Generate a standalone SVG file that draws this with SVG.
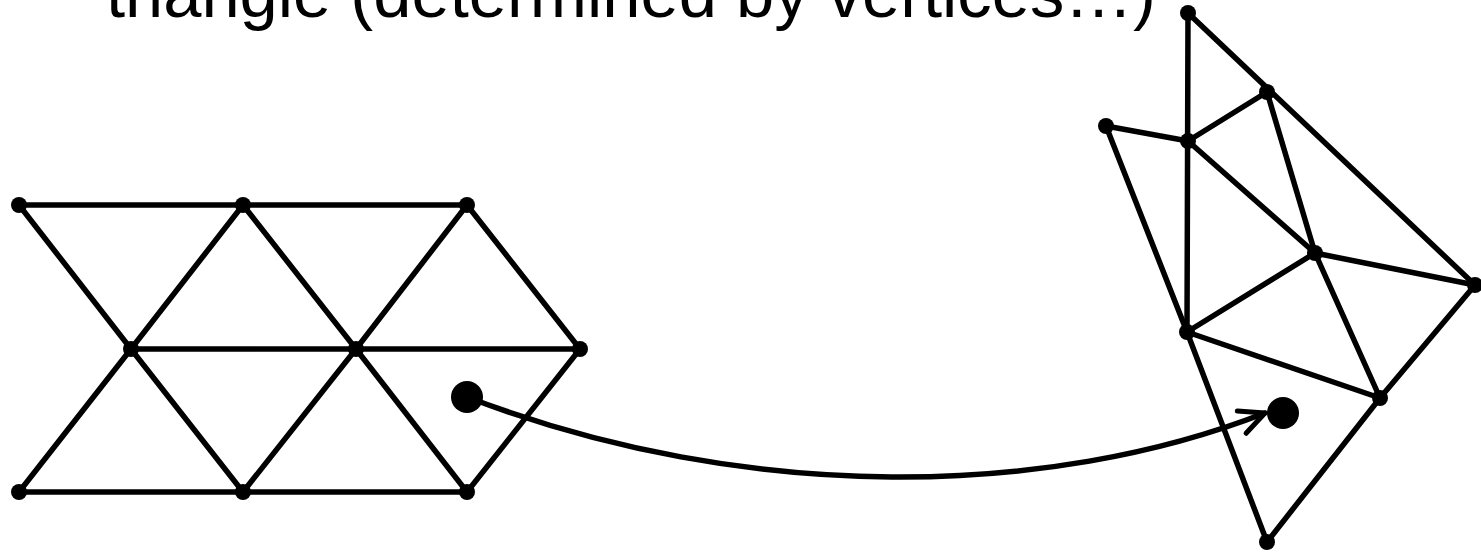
<svg xmlns="http://www.w3.org/2000/svg" width="1481" height="552" viewBox="0 0 1481 552">
<style>
.e{stroke:#000;stroke-width:5.5;stroke-linecap:round;fill:none}
.n{fill:#000}
.big{fill:#000}
.t{font-family:"Liberation Sans",Arial,sans-serif;font-size:68.7px;fill:#000}
</style>
<defs>
<marker id="arr" markerUnits="userSpaceOnUse" viewBox="-30 -16 34 32" refX="0" refY="0" markerWidth="34" markerHeight="32" orient="auto">
<path d="M-25,-12 L0,0 L-25,12" fill="none" stroke="#000" stroke-width="5" stroke-linecap="round" stroke-linejoin="round"/>
</marker>
</defs>
<rect width="1481" height="552" fill="#fff"/>
<text class="t" x="106" y="17">triangle (determined by vertices…)</text>
<g id="connectors">
<g id="mesh-left-edges">
<line class="e" x1="19" y1="205" x2="467" y2="205"/>
<line class="e" x1="131" y1="349" x2="580" y2="349"/>
<line class="e" x1="19" y1="492" x2="467" y2="492"/>
<line class="e" x1="19" y1="205" x2="131" y2="349"/>
<line class="e" x1="131" y1="349" x2="243" y2="205"/>
<line class="e" x1="243" y1="205" x2="356" y2="349"/>
<line class="e" x1="356" y1="349" x2="467" y2="205"/>
<line class="e" x1="467" y1="205" x2="580" y2="349"/>
<line class="e" x1="19" y1="492" x2="131" y2="349"/>
<line class="e" x1="131" y1="349" x2="243" y2="492"/>
<line class="e" x1="243" y1="492" x2="356" y2="349"/>
<line class="e" x1="356" y1="349" x2="467" y2="492"/>
<line class="e" x1="467" y1="492" x2="580" y2="349"/>
</g>
<g id="mesh-right-edges">
<line class="e" x1="1188" y1="13" x2="1187" y2="332"/>
<line class="e" x1="1188" y1="13" x2="1475" y2="285"/>
<line class="e" x1="1106" y1="126" x2="1188" y2="141"/>
<line class="e" x1="1106" y1="126" x2="1187" y2="332"/>
<line class="e" x1="1188" y1="141" x2="1267" y2="92"/>
<line class="e" x1="1188" y1="141" x2="1315" y2="253"/>
<line class="e" x1="1267" y1="92" x2="1315" y2="253"/>
<line class="e" x1="1315" y1="253" x2="1475" y2="285"/>
<line class="e" x1="1315" y1="253" x2="1187" y2="332"/>
<line class="e" x1="1315" y1="253" x2="1380" y2="398"/>
<line class="e" x1="1187" y1="332" x2="1380" y2="398"/>
<line class="e" x1="1475" y1="285" x2="1380" y2="398"/>
<line class="e" x1="1380" y1="398" x2="1267" y2="542"/>
<line class="e" x1="1187" y1="332" x2="1267" y2="542"/>
</g>
<path id="map-arrow" class="e" stroke-width="5" d="M467,397 C750,505 1050,497 1265,413" marker-end="url(#arr)"/>
</g>
<g id="left-nodes">
<circle class="n" cx="19" cy="205" r="8"/>
<circle class="n" cx="243" cy="205" r="8"/>
<circle class="n" cx="467" cy="205" r="8"/>
<circle class="n" cx="131" cy="349" r="8"/>
<circle class="n" cx="356" cy="349" r="8"/>
<circle class="n" cx="580" cy="349" r="8"/>
<circle class="n" cx="19" cy="492" r="8"/>
<circle class="n" cx="243" cy="492" r="8"/>
<circle class="n" cx="467" cy="492" r="8"/>
</g>
<g id="right-nodes">
<circle class="n" cx="1188" cy="13" r="8"/>
<circle class="n" cx="1267" cy="92" r="8"/>
<circle class="n" cx="1106" cy="126" r="8"/>
<circle class="n" cx="1188" cy="141" r="8"/>
<circle class="n" cx="1315" cy="253" r="8"/>
<circle class="n" cx="1475" cy="285" r="8"/>
<circle class="n" cx="1187" cy="332" r="8"/>
<circle class="n" cx="1380" cy="398" r="8"/>
<circle class="n" cx="1267" cy="542" r="8"/>
</g>
<g id="source-point"><circle class="big" cx="467" cy="397" r="16"/></g>
<g id="target-point"><circle class="big" cx="1283" cy="413" r="16"/></g>
</svg>
